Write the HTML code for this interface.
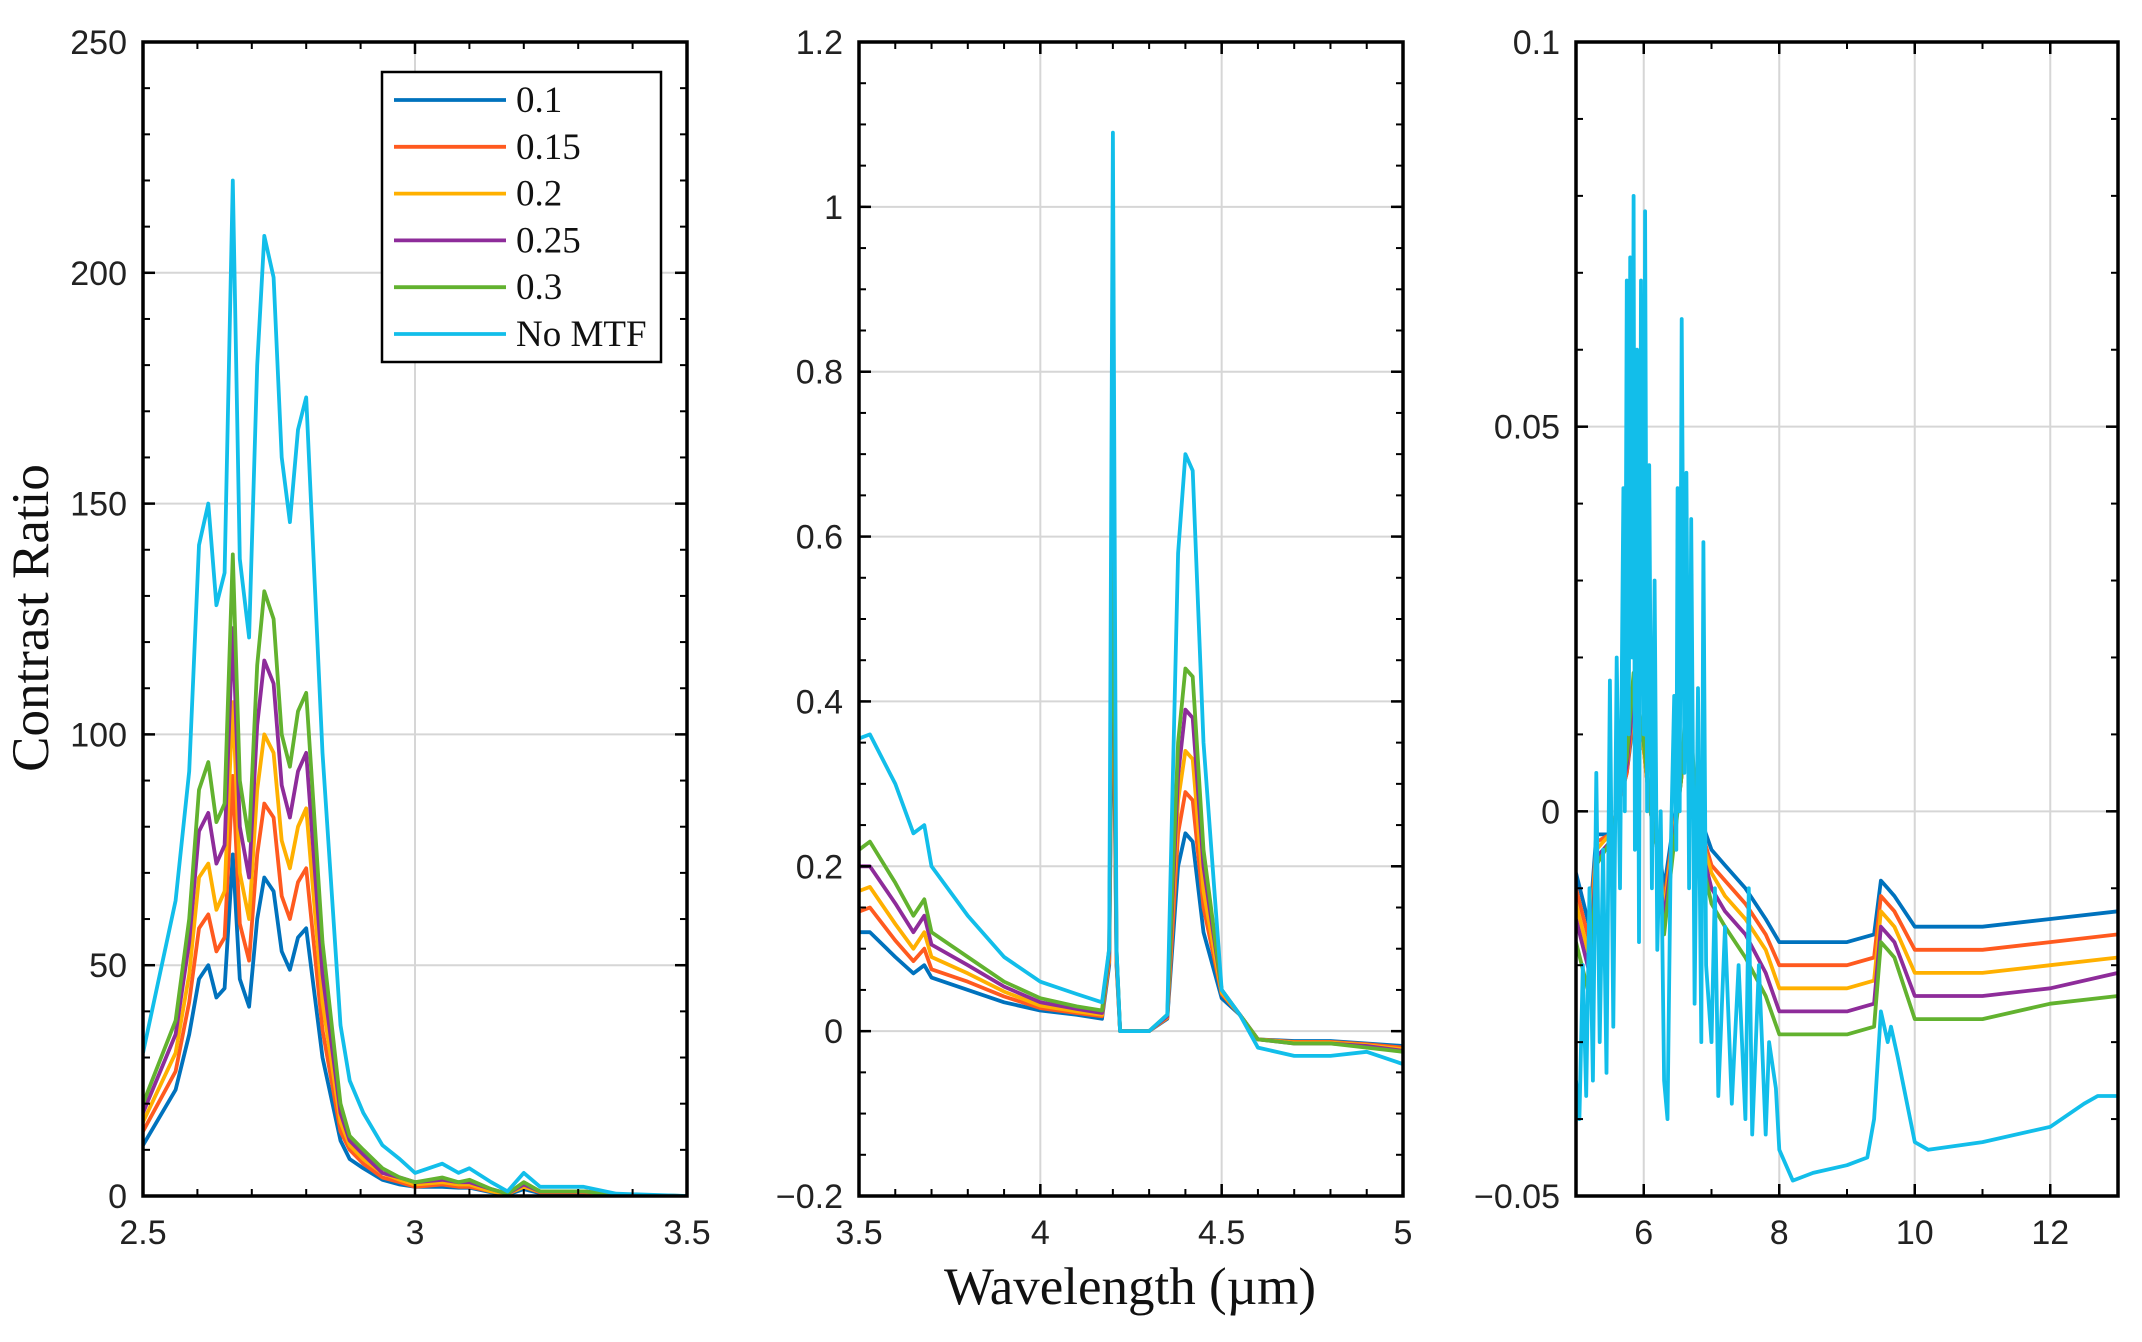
<!DOCTYPE html>
<html><head><meta charset="utf-8"><style>
html,body{margin:0;padding:0;background:#fff;}
svg{display:block;}
</style></head><body>
<svg id="chart" width="2142" height="1342" viewBox="0 0 2142 1342" xmlns="http://www.w3.org/2000/svg">
<g id="layer"></g>
<text x="0" y="0" transform="translate(48,618) rotate(-90)" text-anchor="middle" font-family="Liberation Serif, serif" font-size="53" fill="#111">Contrast Ratio</text>
<text x="1130" y="1304" text-anchor="middle" font-family="Liberation Serif, serif" font-size="53" fill="#111">Wavelength (µm)</text>
</svg>
<script>
const seriesNames = ["0.1","0.15","0.2","0.25","0.3","No MTF"];
const colors = ["#0072BD","#FF5A1F","#FFB000","#8E2C9A","#62B22F","#12BEEA"];

// Panel 1
const p1x = [2.5,2.56,2.585,2.603,2.62,2.635,2.65,2.665,2.678,2.695,2.71,2.723,2.74,2.755,2.77,2.785,2.8,2.83,2.863,2.88,2.905,2.94,2.972,3.0,3.05,3.08,3.1,3.14,3.17,3.2,3.23,3.31,3.37,3.5];
const p1_01 = [11,23,35,47,50,43,45,74,47,41,60,69,66,53,49,56,58,30,12,8,6,3.5,2.5,2,2,1.8,1.8,0.8,0.3,1.5,0.6,0.6,0.2,0];
const p1_015 = [14,27,42,58,61,53,56,91,59,51,74,85,82,65,60,68,71,36,14,10,7,4,3,2,2.5,2,2,1,0.4,2,0.8,0.8,0.2,0];
const p1_02 = [16,31,48,69,72,62,66,107,70,60,88,100,96,77,71,80,84,42,16,11,8,5,3.5,2.5,3,2.5,2.5,1,0.5,2,1,1,0.3,0];
const p1_025 = [18,35,55,79,83,72,76,123,80,69,102,116,111,89,82,92,96,48,18,12,9,5,4,3,3.5,3,3,1.5,0.5,2.5,1,1,0.3,0];
const p1_03 = [20,38,60,88,94,81,85,139,90,77,115,131,125,100,93,105,109,55,20,13,10,6,4,3,4,3,3.5,1.5,0.5,3,1,1,0.3,0];
const p1_nomtf = [31,64,92,141,150,128,135,220,138,121,180,208,199,160,146,166,173,96,37,25,18,11,8,5,7,5,6,3,1,5,2,2,0.5,0];
const p1xTicks = [2.5,3,3.5];
const p1xTickLabels = ["2.5","3","3.5"];
const p1yTicks = [0,50,100,150,200,250];
const p1yTickLabels = ["0","50","100","150","200","250"];

// Panel 2
const p2x = [3.5,3.53,3.6,3.65,3.68,3.7,3.8,3.9,4.0,4.1,4.17,4.19,4.2,4.21,4.22,4.3,4.35,4.38,4.4,4.42,4.45,4.5,4.55,4.6,4.7,4.8,4.9,5.0];
const p2_01 = [0.12,0.12,0.09,0.07,0.08,0.065,0.05,0.035,0.025,0.02,0.015,0.08,0.5,0.08,0,0,0.015,0.2,0.24,0.23,0.12,0.04,0.02,-0.01,-0.012,-0.012,-0.015,-0.018];
const p2_015 = [0.145,0.15,0.11,0.085,0.1,0.075,0.06,0.042,0.028,0.022,0.018,0.085,0.55,0.085,0,0,0.016,0.24,0.29,0.28,0.15,0.045,0.02,-0.01,-0.013,-0.013,-0.016,-0.02];
const p2_02 = [0.17,0.175,0.13,0.1,0.12,0.09,0.07,0.048,0.031,0.024,0.02,0.09,0.6,0.09,0,0,0.017,0.28,0.34,0.33,0.17,0.047,0.02,-0.01,-0.014,-0.014,-0.017,-0.022];
const p2_025 = [0.2,0.2,0.155,0.12,0.14,0.105,0.08,0.054,0.035,0.027,0.022,0.095,0.64,0.095,0,0,0.018,0.31,0.39,0.38,0.2,0.05,0.02,-0.01,-0.015,-0.015,-0.018,-0.024];
const p2_03 = [0.22,0.23,0.18,0.14,0.16,0.12,0.09,0.06,0.04,0.03,0.025,0.1,0.69,0.1,0,0,0.02,0.35,0.44,0.43,0.22,0.05,0.02,-0.01,-0.015,-0.015,-0.02,-0.025];
const p2_nomtf = [0.355,0.36,0.3,0.24,0.25,0.2,0.14,0.09,0.06,0.045,0.035,0.1,1.09,0.1,0,0,0.02,0.58,0.7,0.68,0.35,0.05,0.02,-0.02,-0.03,-0.03,-0.025,-0.04];
const p2xTicks = [3.5,4,4.5,5];
const p2xTickLabels = ["3.5","4","4.5","5"];
const p2yTicks = [-0.2,0,0.2,0.4,0.6,0.8,1,1.2];
const p2yTickLabels = ["\u22120.2","0","0.2","0.4","0.6","0.8","1","1.2"];

// Panel 3
const p3x = [5,5.2,5.3,5.5,5.6,5.75,5.85,6.0,6.1,6.2,6.3,6.4,6.55,6.65,6.8,7.0,7.2,7.5,7.8,8.0,8.5,9.0,9.4,9.5,9.6,9.7,10,11,12,13];
const p3_01 = [-0.008,-0.015,-0.003,-0.003,0.0,0.005,0.012,0.008,0.0,-0.003,-0.01,-0.004,0.004,0.012,0.0,-0.005,-0.007,-0.01,-0.014,-0.017,-0.017,-0.017,-0.016,-0.009,-0.01,-0.011,-0.015,-0.015,-0.014,-0.013];
const p3_015 = [-0.01,-0.017,-0.004,-0.003,0.0,0.005,0.013,0.008,0,-0.004,-0.012,-0.005,0.004,0.013,-0.001,-0.007,-0.009,-0.012,-0.016,-0.02,-0.02,-0.02,-0.019,-0.011,-0.012,-0.013,-0.018,-0.018,-0.017,-0.016];
const p3_02 = [-0.012,-0.019,-0.005,-0.003,0,0.006,0.014,0.008,0,-0.004,-0.013,-0.006,0.004,0.014,-0.002,-0.008,-0.011,-0.014,-0.018,-0.023,-0.023,-0.023,-0.022,-0.013,-0.014,-0.015,-0.021,-0.021,-0.02,-0.019];
const p3_025 = [-0.014,-0.021,-0.006,-0.004,0,0.006,0.015,0.009,0,-0.005,-0.014,-0.007,0.004,0.015,-0.003,-0.01,-0.013,-0.016,-0.021,-0.026,-0.026,-0.026,-0.025,-0.015,-0.016,-0.017,-0.024,-0.024,-0.023,-0.021];
const p3_03 = [-0.017,-0.024,-0.007,-0.004,0,0.007,0.018,0.009,0,-0.005,-0.016,-0.008,0.004,0.018,-0.004,-0.012,-0.015,-0.019,-0.024,-0.029,-0.029,-0.029,-0.028,-0.017,-0.018,-0.019,-0.027,-0.027,-0.025,-0.024];
const p3cx = [5.0,5.05,5.1,5.15,5.2,5.25,5.3,5.35,5.4,5.45,5.5,5.55,5.6,5.65,5.7,5.72,5.75,5.78,5.8,5.83,5.85,5.87,5.9,5.93,5.96,6.0,6.02,6.05,6.08,6.12,6.16,6.2,6.25,6.3,6.35,6.4,6.45,6.48,6.5,6.53,6.56,6.6,6.63,6.67,6.7,6.75,6.8,6.85,6.88,6.92,7.0,7.05,7.1,7.2,7.3,7.4,7.5,7.55,7.6,7.7,7.8,7.85,7.95,8.0,8.2,8.5,9.0,9.3,9.4,9.5,9.6,9.65,9.75,10.0,10.2,11,12,12.5,12.7,13];
const p3_nomtf = [-0.035,-0.04,-0.02,-0.037,-0.01,-0.035,0.005,-0.03,-0.005,-0.034,0.017,-0.028,0.02,-0.01,0.042,0.0,0.069,0.01,0.072,0.02,0.08,-0.005,0.06,-0.017,0.069,0.01,0.078,0.0,0.045,-0.01,0.03,-0.018,0.0,-0.035,-0.04,-0.005,0.015,-0.005,0.042,0.0,0.064,0.005,0.044,-0.01,0.038,-0.025,0.016,-0.03,0.035,-0.02,-0.03,-0.01,-0.037,-0.015,-0.038,-0.02,-0.04,-0.01,-0.042,-0.02,-0.042,-0.03,-0.036,-0.044,-0.048,-0.047,-0.046,-0.045,-0.04,-0.026,-0.03,-0.028,-0.032,-0.043,-0.044,-0.043,-0.041,-0.038,-0.037,-0.037];
const p3xTicks = [6,8,10,12];
const p3xTickLabels = ["6","8","10","12"];
const p3yTicks = [-0.05,0,0.05,0.1];
const p3yTickLabels = ["\u22120.05","0","0.05","0.1"];

const NS = "http://www.w3.org/2000/svg";
const layer = document.getElementById("layer");
function mk(tag, attrs, parent){ const e=document.createElementNS(NS,tag); for(const k in attrs) e.setAttribute(k,attrs[k]); (parent||layer).appendChild(e); return e; }

function panel(id, box, xd, yd, xTicks, xLabels, yTicks, yLabels, xMinor, yMinor, series){
  const g = mk("g",{});
  
  
  const sx = v => box.l + (v - xd[0])/(xd[1]-xd[0])*(box.r-box.l);
  const sy = v => box.b - (v - yd[0])/(yd[1]-yd[0])*(box.b-box.t);
  const clipId = id+"-clip";
  const cp = mk("clipPath",{id:clipId},g);
  mk("rect",{x:box.l,y:box.t,width:box.r-box.l,height:box.b-box.t},cp);
  xTicks.forEach(v=>{ const l=mk("line",{x1:sx(v),x2:sx(v),y1:box.t,y2:box.b,stroke:"#d6d6d6","stroke-width":2},g);
      });
  yTicks.forEach(v=>{ const l=mk("line",{x1:box.l,x2:box.r,y1:sy(v),y2:sy(v),stroke:"#d6d6d6","stroke-width":2},g);
      });
  const sg = mk("g",{"clip-path":"url(#"+clipId+")"},g);
  series.forEach((s,i)=>{
    const d = s.x.map((x,j)=>(j?"L":"M")+sx(x).toFixed(1)+","+sy(s.y[j]).toFixed(1)).join("");
    const p = mk("path",{d:d,fill:"none",stroke:colors[i],"stroke-width":3.8,"stroke-linejoin":"round"},sg);
    
    
  });
  for(let v=xd[0]; v<=xd[1]+1e-9; v+=xMinor){
    mk("line",{x1:sx(v),x2:sx(v),y1:box.b,y2:box.b-7,stroke:"#000","stroke-width":2},g);
    mk("line",{x1:sx(v),x2:sx(v),y1:box.t,y2:box.t+7,stroke:"#000","stroke-width":2},g);
  }
  for(let v=yd[0]; v<=yd[1]+1e-9; v+=yMinor){
    mk("line",{x1:box.l,x2:box.l+7,y1:sy(v),y2:sy(v),stroke:"#000","stroke-width":2},g);
    mk("line",{x1:box.r,x2:box.r-7,y1:sy(v),y2:sy(v),stroke:"#000","stroke-width":2},g);
  }
  xTicks.forEach((v,i)=>{
    mk("line",{x1:sx(v),x2:sx(v),y1:box.b,y2:box.b-12,stroke:"#000","stroke-width":2.5},g);
    mk("line",{x1:sx(v),x2:sx(v),y1:box.t,y2:box.t+12,stroke:"#000","stroke-width":2.5},g);
    const t = mk("text",{x:sx(v),y:box.b+48,"text-anchor":"middle","font-family":"Liberation Sans, sans-serif","font-size":34,fill:"#222"},g);
    t.textContent = xLabels[i];
    
    
  });
  yTicks.forEach((v,i)=>{
    mk("line",{x1:box.l,x2:box.l+12,y1:sy(v),y2:sy(v),stroke:"#000","stroke-width":2.5},g);
    mk("line",{x1:box.r,x2:box.r-12,y1:sy(v),y2:sy(v),stroke:"#000","stroke-width":2.5},g);
    const t = mk("text",{x:box.l-16,y:sy(v)+12,"text-anchor":"end","font-family":"Liberation Sans, sans-serif","font-size":34,fill:"#222"},g);
    t.textContent = yLabels[i];
    
    
  });
  const fr = mk("rect",{x:box.l,y:box.t,width:box.r-box.l,height:box.b-box.t,fill:"none",stroke:"#000","stroke-width":3.5},g);
  
  
  return g;
}

panel("panel-left",{l:143,r:687,t:42,b:1196},[2.5,3.5],[0,250],p1xTicks,p1xTickLabels,p1yTicks,p1yTickLabels,0.1,10,
  [{x:p1x,y:p1_01},{x:p1x,y:p1_015},{x:p1x,y:p1_02},{x:p1x,y:p1_025},{x:p1x,y:p1_03},{x:p1x,y:p1_nomtf}]);
panel("panel-middle",{l:859,r:1403,t:42,b:1196},[3.5,5],[-0.2,1.2],p2xTicks,p2xTickLabels,p2yTicks,p2yTickLabels,0.1,0.05,
  [{x:p2x,y:p2_01},{x:p2x,y:p2_015},{x:p2x,y:p2_02},{x:p2x,y:p2_025},{x:p2x,y:p2_03},{x:p2x,y:p2_nomtf}]);
panel("panel-right",{l:1576,r:2118,t:42,b:1196},[5,13],[-0.05,0.1],p3xTicks,p3xTickLabels,p3yTicks,p3yTickLabels,1,0.01,
  [{x:p3x,y:p3_01},{x:p3x,y:p3_015},{x:p3x,y:p3_02},{x:p3x,y:p3_025},{x:p3x,y:p3_03},{x:p3cx,y:p3_nomtf}]);

const lg = mk("g",{});


mk("rect",{x:382,y:72,width:279,height:290,fill:"#fff",stroke:"#000","stroke-width":2.5},lg);
seriesNames.forEach((n,i)=>{
  const y = 100 + i*46.8;
  const e = mk("g",{},lg);
  
  
  mk("line",{x1:394,x2:506,y1:y,y2:y,stroke:colors[i],"stroke-width":3.8},e);
  const t = mk("text",{x:516,y:y+12,"font-family":"Liberation Serif, serif","font-size":37,fill:"#111"},e);
  t.textContent = n;
});
</script>
</body></html>
